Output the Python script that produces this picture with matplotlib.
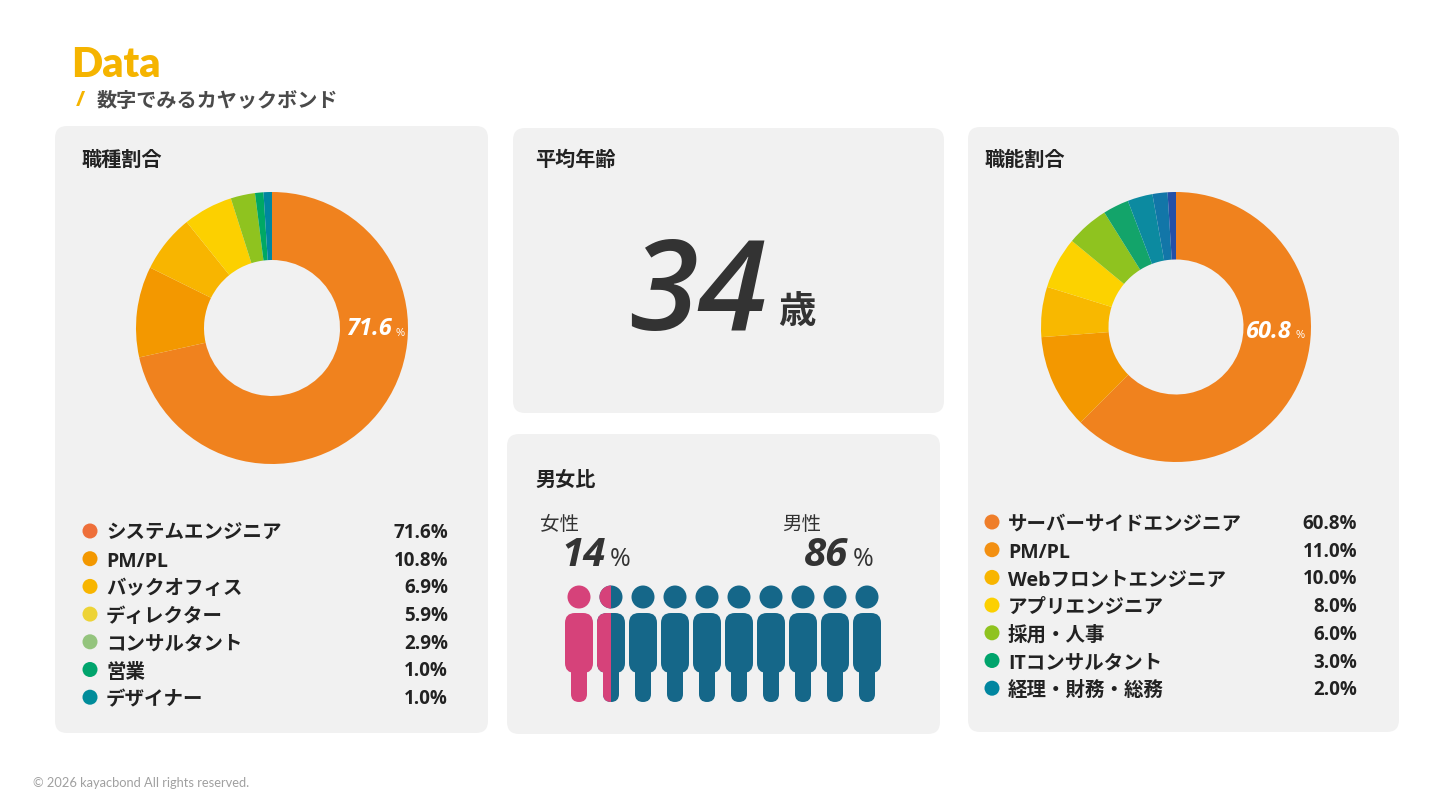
import numpy as np
import matplotlib
matplotlib.use("Agg")
import matplotlib.pyplot as plt
from matplotlib.patches import FancyBboxPatch, Circle, Rectangle

# fonts
JP = ['Noto Sans CJK JP', 'DejaVu Sans']
MIX = ['Open Sans', 'Noto Sans CJK JP', 'DejaVu Sans']
plt.rcParams['font.family'] = JP

# data : 職種割合
job_labels = ['システムエンジニア', 'PM/PL', 'バックオフィス', 'ディレクター',
              'コンサルタント', '営業', 'デザイナー']
job_values = [71.6, 10.8, 6.9, 5.9, 2.9, 1.0, 1.0]
job_colors = ['#F0821E', '#F39800', '#F8B500', '#FCD000', '#8FC31F', '#00A864', '#0086A0']
job_dot_colors = ['#EE6F3A', '#F39800', '#F8B500', '#EDD336', '#94C47D', '#00A46C', '#008C9A']

# data : 職能割合
func_labels = ['サーバーサイドエンジニア', 'PM/PL', 'Webフロントエンジニア', 'アプリエンジニア',
               '採用・人事', 'ITコンサルタント', '経理・財務・総務']
func_values = [60.8, 11.0, 10.0, 8.0, 6.0, 3.0, 2.0]
# slices as drawn in the donut (it has more wedges than the legend)
func_slices = [62.5, 11.3, 6.0, 6.2, 5.1, 3.1, 3.0, 1.8, 1.0]
func_colors = ['#F0821E', '#F39800', '#F8B800', '#FCD200', '#8FC31F', '#13A46A',
               '#0C8AA0', '#1276A8', '#2450A8']
func_dot_colors = ['#EF7E2A', '#F39012', '#F8B500', '#FCD000', '#8FC31F', '#00A46C', '#0086A0']

avg_age = 34
female_pct = 14
male_pct = 86
n_people = 10
female_icons = 1.5  # how many pictograms are pink in the picture

W, H = 1440, 810
fig = plt.figure(figsize=(14.4, 8.1), dpi=100)
fig.patch.set_facecolor('white')
ax = fig.add_axes([0, 0, 1, 1])
ax.set_xlim(0, W)
ax.set_ylim(H, 0)
ax.axis('off')

# header
ax.text(71, 65, 'Data', family=['Lato', 'DejaVu Sans'], weight='heavy', size=29.5,
        color='#F5B400', va='center', ha='left')
ax.text(80, 100, '/', family=['Open Sans'], weight='bold', size=16, color='#F5B400',
        va='center', ha='center')
ax.text(97, 100, '数字でみるカヤックボンド', family=JP, weight='bold', size=14.5,
        color='#4A4A4A', va='center', ha='left')
ax.text(33, 783, '© 2026 kayacbond All rights reserved.', family=['Lato', 'DejaVu Sans'],
        size=9.3, color='#A0A0A0', va='center', ha='left')

# panels
panels = [(55, 126, 433, 607), (513, 128, 431, 285), (507, 434, 433, 300), (968, 127, 431, 605)]
for x0, y0, w, h in panels:
    ax.add_patch(FancyBboxPatch((x0, y0), w, h, boxstyle='round,pad=0,rounding_size=12',
                                fc='#F1F1F1', ec='none'))

titles = [('職種割合', 82, 159), ('平均年齢', 535, 159), ('男女比', 535, 479), ('職能割合', 985, 159)]
for t, x, y in titles:
    ax.text(x, y, t, family=JP, weight='bold', size=14.5, color='#222222', va='center')


def donut(cx, cy, r, values, colors):
    a = fig.add_axes([(cx - r) / W, 1 - (cy + r) / H, 2 * r / W, 2 * r / H])
    a.pie(values, colors=colors, startangle=90, counterclock=False,
          wedgeprops=dict(width=0.5, edgecolor='none'))
    a.set_xlim(-1, 1)
    a.set_ylim(-1, 1)
    a.set_aspect('equal')
    a.axis('off')
    return a


donut(272, 328, 136, job_values, job_colors)
donut(1176, 327, 135, func_slices, func_colors)

# donut value labels (figure texts so they sit above the pie axes)
fig.text(392, 329, f'{job_values[0]}', transform=ax.transData, family=['Open Sans'],
         weight='bold', style='italic', size=17, color='white', va='center', ha='right')
fig.text(396, 333, '%', transform=ax.transData, family=['Open Sans'], size=8,
         color='white', va='center')
fig.text(1292, 332, f'{func_values[0]}', transform=ax.transData, family=['Open Sans'],
         weight='bold', style='italic', size=17, color='white', va='center', ha='right')
fig.text(1296, 336, '%', transform=ax.transData, family=['Open Sans'], size=8,
         color='white', va='center')


def legend(x_dot, y0, dy, x_val, labels, values, colors):
    for i, (lab, v, c) in enumerate(zip(labels, values, colors)):
        y = y0 + i * dy
        ax.add_patch(Circle((x_dot, y), 7.5, fc=c, ec='none'))
        ax.text(x_dot + 16, y + 3, lab, family=MIX, weight='bold', size=14, color='#222222',
                va='center', ha='left')
        ax.text(x_val, y + 2, f'{v:.1f}%', family=['Open Sans'], weight='bold', size=13.5,
                color='#222222', va='center', ha='right')


legend(90, 531, 27.7, 448, job_labels, job_values, job_dot_colors)
legend(992, 522, 27.7, 1357, func_labels, func_values, func_dot_colors)

# 平均年齢
ax.text(767, 297, f'{avg_age}', family=['Open Sans'], style='italic', weight='semibold',
        size=90, color='#333333', va='center', ha='right')
ax.text(778, 311, '歳', family=JP, weight='bold', size=27, color='#333333', va='center')

# 男女比
ax.text(540, 525, '女性', family=JP, size=14, color='#333333', va='center')
ax.text(782, 525, '男性', family=JP, size=14, color='#333333', va='center')
ax.text(561, 556, f'{female_pct}', family=['Open Sans'], weight='bold', style='italic',
        size=29, color='#333333', va='center')
ax.text(610, 559, '%', family=['Open Sans'], size=18, color='#333333', va='center')
ax.text(804, 556, f'{male_pct}', family=['Open Sans'], weight='bold', style='italic',
        size=29, color='#333333', va='center')
ax.text(853, 559, '%', family=['Open Sans'], size=18, color='#333333', va='center')

PINK = '#D6427A'
BLUE = '#156789'


def person(cx, color, clip=None):
    parts = [Circle((cx, 597), 11.5),
             FancyBboxPatch((cx - 14, 613), 28, 60, boxstyle='round,pad=0,rounding_size=10'),
             FancyBboxPatch((cx - 8, 640), 16, 62, boxstyle='round,pad=0,rounding_size=8')]
    for p in parts:
        p.set_facecolor(color)
        p.set_edgecolor('none')
        ax.add_patch(p)
        if clip is not None:
            p.set_clip_path(clip)


for i in range(n_people):
    cx = 579 + 32 * i
    if i + 1 <= female_icons:
        person(cx, PINK)
    elif i < female_icons:
        person(cx, BLUE)
        frac = female_icons - i
        clip = Rectangle((cx - 14, 580), 28 * frac, 130, transform=ax.transData)
        person(cx, PINK, clip=clip)
    else:
        person(cx, BLUE)

fig.savefig('out.png', dpi=100, facecolor='white')
